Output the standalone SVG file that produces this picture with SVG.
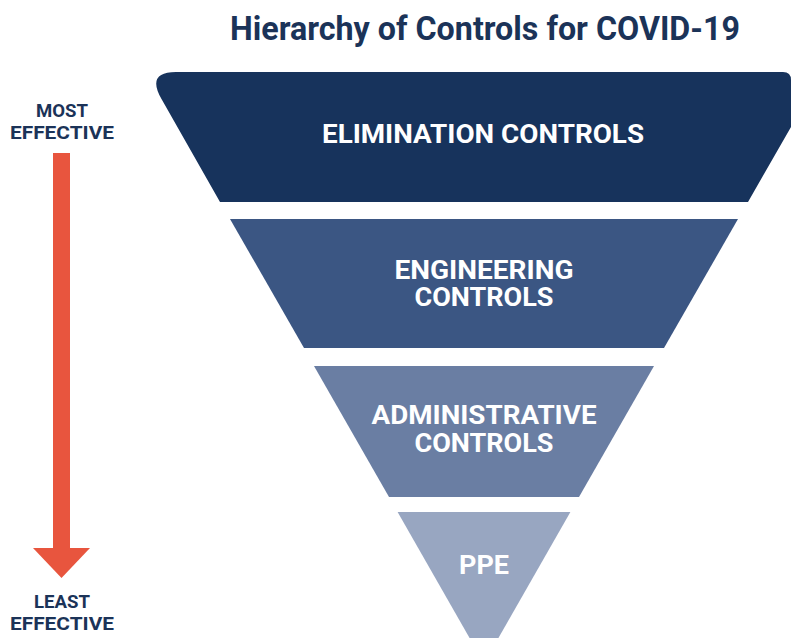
<svg xmlns="http://www.w3.org/2000/svg" width="794" height="638" viewBox="0 0 794 638">
<style>
.t{font-family:Roboto,"Liberation Sans",sans-serif;font-weight:700;text-anchor:middle}
.w{fill:#ffffff;font-size:25px}
.n{fill:#1b3358}
.s{font-size:18px}
</style>
<rect width="794" height="638" fill="#ffffff"/>
<text class="t n" x="485" y="40" font-size="33" textLength="510" lengthAdjust="spacingAndGlyphs">Hierarchy of Controls for COVID-19</text>
<g id="scale">
<text class="t n s" x="62" y="117" textLength="52" lengthAdjust="spacingAndGlyphs">MOST</text>
<text class="t n s" x="62" y="139" textLength="104" lengthAdjust="spacingAndGlyphs">EFFECTIVE</text>
<rect x="53" y="153" width="17" height="396" fill="#e8553e"/>
<polygon points="33,548 90,548 61.5,578" fill="#e8553e"/>
<text class="t n s" x="62" y="608" textLength="56" lengthAdjust="spacingAndGlyphs">LEAST</text>
<text class="t n s" x="62" y="630" textLength="104" lengthAdjust="spacingAndGlyphs">EFFECTIVE</text>
</g>
<g id="elimination">
<path d="M176,72 L783,72 Q791,72 791,80 L791,127 L748,202 L220,202 L161.5,99 Q146,72 176,72 Z" fill="#17335c"/>
<text class="t w" x="483" y="143" textLength="322" lengthAdjust="spacingAndGlyphs">ELIMINATION CONTROLS</text>
</g>
<g id="engineering">
<polygon points="230,219 738,219 664,348 304,348" fill="#3b5683"/>
<text class="t w" x="484" y="279" textLength="179" lengthAdjust="spacingAndGlyphs">ENGINEERING</text>
<text class="t w" x="484" y="306" textLength="139" lengthAdjust="spacingAndGlyphs">CONTROLS</text>
</g>
<g id="administrative">
<polygon points="314,366 654,366 579,497 389,497" fill="#6a7ea3"/>
<text class="t w" x="484" y="424" textLength="225" lengthAdjust="spacingAndGlyphs">ADMINISTRATIVE</text>
<text class="t w" x="484" y="452" textLength="139" lengthAdjust="spacingAndGlyphs">CONTROLS</text>
</g>
<g id="ppe">
<path d="M397.6,512 L570.4,512 L491,651 Q484,662 477,651 Z" fill="#98a6c1"/>
<text class="t w" x="484" y="574" textLength="50" lengthAdjust="spacingAndGlyphs">PPE</text>
</g>
</svg>
